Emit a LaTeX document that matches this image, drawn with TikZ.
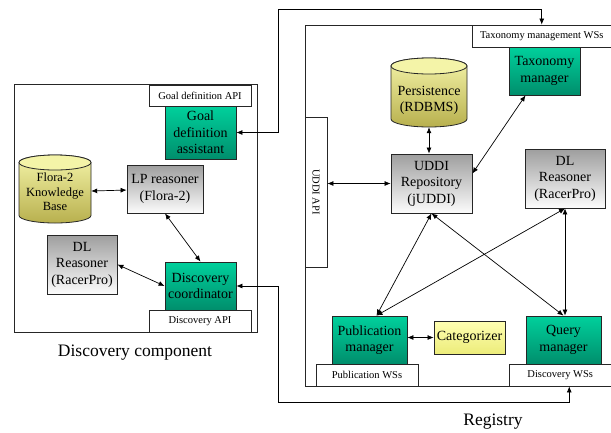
\documentclass[tikz,border=0pt]{standalone}
\usepackage{fontspec}
\setmainfont{Liberation Serif}
\usepackage{tikz}
\usetikzlibrary{arrows.meta}

\definecolor{tealtop}{RGB}{0,208,156}
\definecolor{tealbot}{RGB}{0,142,108}
\definecolor{graytop}{RGB}{158,158,158}
\definecolor{graybot}{RGB}{252,252,252}
\definecolor{olivetop}{RGB}{244,244,168}
\definecolor{olivebot}{RGB}{184,176,78}
\definecolor{cattop}{RGB}{255,255,178}
\definecolor{catbot}{RGB}{236,236,122}

\tikzset{
  boxtext/.style={font=\fontsize{14}{16.5}\selectfont, align=center, inner sep=0pt},
  greenbox/.style={boxtext, draw=black!85, line width=0.8pt, top color=tealtop, bottom color=tealbot},
  graybox/.style={boxtext, draw=black!85, line width=0.8pt, top color=graytop, bottom color=graybot},
  catbox/.style={boxtext, draw=black!85, line width=0.8pt, top color=cattop, bottom color=catbot},
  apibox/.style={draw=black!85, line width=0.8pt, fill=white, font=\fontsize{10.5}{12}\selectfont, inner sep=0pt},
  cylline/.style={draw=black!85, line width=0.8pt},
  biglabel/.style={font=\fontsize{17.5}{20}\selectfont},
  link/.style={{Latex[length=6pt,width=5pt]}-{Latex[length=6pt,width=5pt]}, line width=0.7pt},
}

\begin{document}
\begin{tikzpicture}[x=1pt,y=-1pt]
\useasboundingbox (0,0) rectangle (611,432);

% Discovery component
\draw[line width=0.8pt, black!85] (14,84) rectangle (257,332);
\node[biglabel] (disclabel) at (135,353) {Discovery component};

\node[apibox, minimum width=102, minimum height=21] (goalapi) at (200,95.5) {Goal definition API};
\node[greenbox, minimum width=71, minimum height=53] (goal) at (200.5,132.5) {Goal\\definition\\assistant};

% Flora-2 cylinder
\shadedraw[cylline, top color=olivetop, bottom color=olivebot] (19,162.5) -- (19,215.5)
  arc[start angle=180, end angle=0, x radius=36, y radius=7.5] -- (91,162.5)
  arc[start angle=0, end angle=-180, x radius=36, y radius=7.5] -- cycle;
\filldraw[cylline, fill=olivetop] (55,162.5) ellipse[x radius=36, y radius=7.5];
\node[boxtext, font=\fontsize{12.5}{14.5}\selectfont, minimum width=72, minimum height=62] (flora) at (55,192) {Flora-2\\Knowledge\\Base};

\node[graybox, minimum width=76, minimum height=48] (lp) at (165,189) {LP reasoner\\(Flora-2)};
\node[graybox, minimum width=70, minimum height=59] (dlleft) at (82,264.5) {DL\\Reasoner\\(RacerPro)};
\node[greenbox, minimum width=71, minimum height=48] (coord) at (200.5,286) {Discovery\\coordinator};
\node[apibox, minimum width=102, minimum height=22] (discapi) at (200,321) {Discovery API};

\draw[link] (flora) -- (lp);
\draw[link] (lp.south) -- (coord.north);
\draw[link] (dlleft.east) -- (coord.west);

% Registry
\draw[line width=0.8pt, black!85] (611,25) -- (305,25) -- (305,386) -- (611,386);
\node[biglabel] (reglabel) at (493,422) {Registry};

\node[apibox, minimum width=139.5, minimum height=22] (taxapi) at (541.75,36) {Taxonomy management WSs};
\node[apibox, minimum width=22, minimum height=150] (uddiapi) at (316,192) {};
\node[rotate=-90, font=\fontsize{10.5}{12}\selectfont] (uddiapitext) at (uddiapi) {UDDI API};

% Persistence cylinder
\shadedraw[cylline, top color=olivetop, bottom color=olivebot] (391,66) -- (391,119)
  arc[start angle=180, end angle=0, x radius=38, y radius=8] -- (467,66)
  arc[start angle=0, end angle=-180, x radius=38, y radius=8] -- cycle;
\filldraw[cylline, fill=olivetop] (429,66) ellipse[x radius=38, y radius=8];
\node[boxtext, minimum width=76, minimum height=53] (persist) at (429,100.5) {Persistence\\(RDBMS)};

\node[greenbox, minimum width=71, minimum height=48] (tax) at (544.5,71) {Taxonomy\\manager};
\node[graybox, minimum width=81, minimum height=59] (uddi) at (431.5,183.5) {UDDI\\Repository\\(jUDDI)};
\node[graybox, minimum width=80, minimum height=59] (dlright) at (565,178.5) {DL\\Reasoner\\(RacerPro)};

\node[greenbox, minimum width=75, minimum height=48] (pub) at (369.5,340) {Publication\\manager};
\node[apibox, minimum width=102, minimum height=22] (pubapi) at (367,375) {Publication WSs};
\node[catbox, minimum width=71, minimum height=33] (cat) at (469.5,337.5) {Categorizer};
\node[greenbox, minimum width=75, minimum height=48] (query) at (563.5,340) {Query\\manager};
\node[apibox, minimum width=102.5, minimum height=22] (discws) at (560.25,375) {Discovery WSs};

\draw[link] (persist.south) -- (persist.south |- uddi.north);
\draw[link] (uddi.west) -- (uddi.west -| uddiapi.east);
\draw[link] ([xshift=-19pt]tax.south) -- ([yshift=10pt]uddi.east);
\draw[link] (uddi.south) -- ([xshift=7pt]pub.north);
\draw[link] (uddi.south) -- (query.north);
\draw[link] (dlright.south) -- ([xshift=7pt]pub.north);
\draw[link] (dlright.south) -- (dlright.south |- query.north);
\draw[link] (cat.west) -- (cat.west -| pub.east);

% connectors between the two components
\coordinate (topturn) at (278,9);
\coordinate (botturn) at (278,402);
\draw[link] (goal.east) -- (goal.east -| topturn) -- (topturn) -| (taxapi.north);
\draw[link] (coord.east) -- (coord.east -| botturn) -- (botturn) -| ([xshift=9pt]discws.south);
\end{tikzpicture}
\end{document}
